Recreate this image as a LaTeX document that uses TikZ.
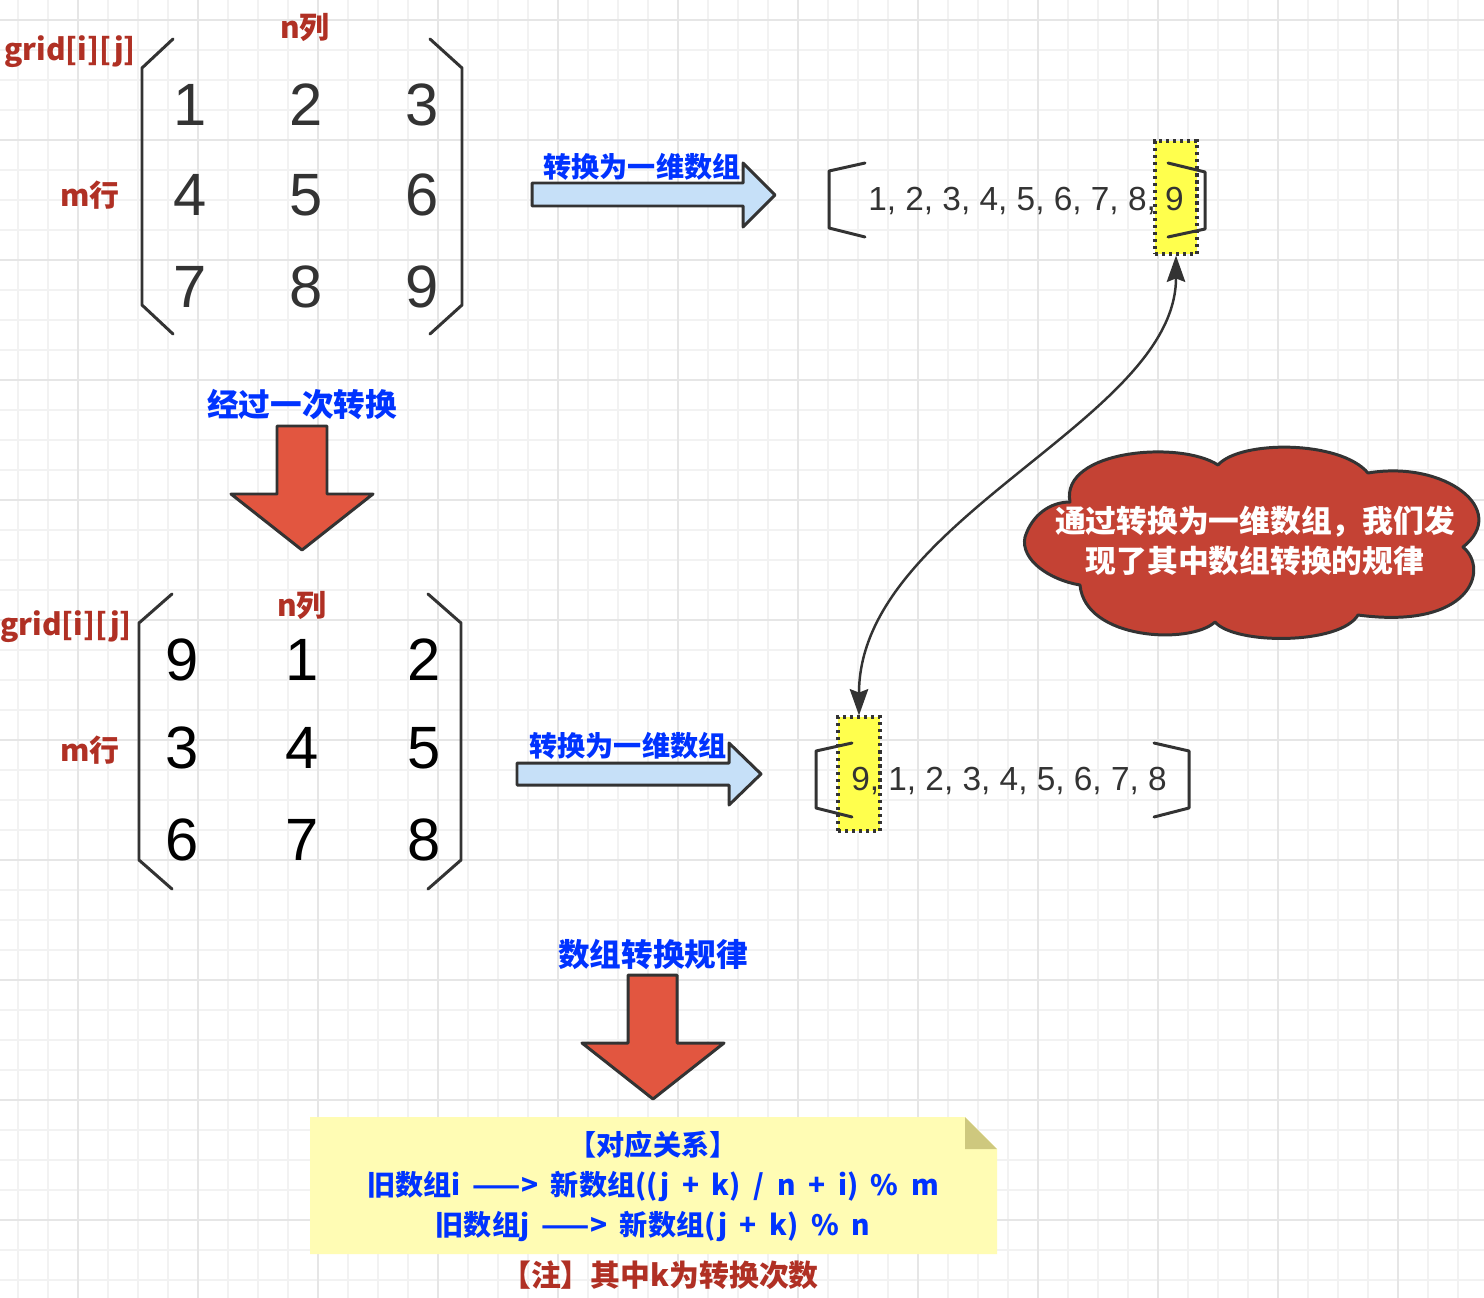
\documentclass[tikz,border=0pt]{standalone}
\usepackage{fontspec}
\setmainfont{Liberation Sans}
\newfontfamily\cjk{Noto Sans CJK SC}
\usetikzlibrary{arrows.meta}
\definecolor{lblred}{RGB}{176,48,36}
\definecolor{lblblue}{RGB}{0,51,255}
\definecolor{ink}{RGB}{51,51,51}
\definecolor{arrowblue}{RGB}{198,224,248}
\definecolor{arrowred}{RGB}{226,86,64}
\definecolor{cloudred}{RGB}{196,66,52}
\definecolor{hlyellow}{RGB}{255,255,77}
\definecolor{notebg}{RGB}{255,252,180}
\definecolor{notefold}{RGB}{206,200,126}
\definecolor{gridminor}{RGB}{242,242,242}
\definecolor{gridmajor}{RGB}{230,230,230}
\newcommand{\widespace}{\spaceskip=0.45em\relax}

\begin{document}
\begin{tikzpicture}[
  x=0.02cm, y=-0.02cm,
  digit/.style={inner sep=0pt, text=ink, font=\fontsize{34}{34}\selectfont},
  listtxt/.style={inner sep=0pt, text=ink, font=\fontsize{19}{19}\selectfont},
  redlbl/.style={inner sep=0pt, text=lblred, font=\cjk\bfseries\fontsize{17}{20}\selectfont},
  bluelbl/.style={inner sep=0pt, text=lblblue, font=\cjk\bfseries\fontsize{16}{19}\selectfont},
  biglbl/.style={bluelbl, font=\cjk\bfseries\fontsize{18}{21}\selectfont},
  paren/.style={draw=ink, line width=1.7pt, line cap=round, line join=round},
  blockarrow/.style={draw=ink, line width=1.7pt, line join=round},
  hlbox/.style={draw=ink, fill=hlyellow, line width=1.8pt, dash pattern=on 1.8pt off 2.2pt,
                minimum width=0.84cm, inner sep=0pt},
  gridline/.style={line width=0.8pt},
]
\useasboundingbox (0,0) rectangle (1484,1298);
\fill[white] (0,0) rectangle (1484,1298);
% background grid
\foreach \gx in {18,48,...,1484} \draw[gridline, gridminor] (\gx,0) -- (\gx,1298);
\foreach \gy in {20,50,...,1298} \draw[gridline, gridminor] (0,\gy) -- (1484,\gy);
\foreach \gx in {78,198,...,1484} \draw[gridline, gridmajor] (\gx,0) -- (\gx,1298);
\foreach \gy in {20,140,...,1298} \draw[gridline, gridmajor] (0,\gy) -- (1484,\gy);

% original matrix
\draw[paren] (173,39) -- (142,68) -- (142,305) -- (173,334);
\draw[paren] (430,39) -- (462,68) -- (462,305) -- (430,334);
\foreach \v/\cx/\cy in {1/190/105, 2/306/105, 3/422/105,
                        4/190/195, 5/306/195, 6/422/195,
                        7/190/287, 8/306/287, 9/422/287}
  \node[digit] (old\v) at (\cx,\cy) {\v};
\node[redlbl] (gridOld) at (70,52) {grid[i][j]};
\node[redlbl] (colOld) at (305,27) {n列};
\node[redlbl] (rowOld) at (90,195) {m行};

% shifted matrix
\draw[paren] (172,594) -- (139,623) -- (139,860) -- (172,889);
\draw[paren] (428,594) -- (461,623) -- (461,860) -- (428,889);
\foreach \v/\cx/\cy in {9/182/660, 1/302/660, 2/424/660,
                        3/182/748, 4/302/748, 5/424/748,
                        6/182/840, 7/302/840, 8/424/840}
  \node[digit, text=black] (new\v) at (\cx,\cy) {\v};
\node[redlbl] (gridNew) at (66,627) {grid[i][j]};
\node[redlbl] (colNew) at (302,605) {n列};
\node[redlbl] (rowNew) at (90,750) {m行};

% flatten arrows
\draw[blockarrow, fill=arrowblue] (532,183) -- (743,183) -- (743,163) -- (775,195)
  -- (743,227) -- (743,206) -- (532,206) -- cycle;
\node[bluelbl] (flatOld) at (642,167) {转换为一维数组};
\draw[blockarrow, fill=arrowblue] (517,763) -- (729,763) -- (729,743) -- (761,774)
  -- (729,805) -- (729,785) -- (517,785) -- cycle;
\node[bluelbl] (flatNew) at (628,746) {转换为一维数组};

% down arrows
\draw[blockarrow, fill=arrowred] (277,426) -- (327,426) -- (327,494) -- (373,494)
  -- (302,550) -- (231,494) -- (277,494) -- cycle;
\node[biglbl] (shiftOnce) at (302,405) {经过一次转换};
\draw[blockarrow, fill=arrowred] (628,975) -- (677,975) -- (677,1043) -- (724,1043)
  -- (653,1099) -- (582,1043) -- (628,1043) -- cycle;
\node[biglbl] (ruleLbl) at (653,955) {数组转换规律};

% one-dimensional lists
\node[hlbox, minimum height=2.26cm] (hlTop) at (1176,197.5) {};
\node[hlbox, minimum height=2.28cm] (hlBot) at (859,774) {};
\draw[paren] (865,163) -- (829,171) -- (829,228) -- (865,237);
\draw[paren] (1168,163) -- (1205,172) -- (1205,229) -- (1168,237);
\node[listtxt] (listOld) at (1026,201) {1, 2, 3, 4, 5, 6, 7, 8, 9};
\draw[paren] (852,743) -- (816,751) -- (816,808) -- (852,817);
\draw[paren] (1154,743) -- (1189,751) -- (1189,808) -- (1154,817);
\node[listtxt] (listNew) at (1009,781) {9, 1, 2, 3, 4, 5, 6, 7, 8};

\draw[ink, line width=1.4pt, {Stealth[length=15pt,width=10.5pt,inset=2pt]}-{Stealth[length=15pt,width=10.5pt,inset=2pt]}]
  (hlTop.south) .. controls +(0,165) and +(0,-197) .. (hlBot.north);

% cloud
\draw[draw=ink, fill=cloudred, line width=1.7pt, line join=round]
  (1025,537) .. controls (1032,515) and (1050,502) .. (1070,502)
  .. controls (1060,450) and (1180,440) .. (1218,465)
  .. controls (1240,440) and (1340,440) .. (1368,473)
  .. controls (1445,460) and (1510,510) .. (1463,547)
  .. controls (1490,570) and (1470,630) .. (1358,615)
  .. controls (1340,645) and (1235,645) .. (1215,622)
  .. controls (1190,645) and (1085,640) .. (1080,585)
  .. controls (1050,580) and (1020,560) .. (1025,537) -- cycle;
\node[inner sep=0pt, text=white, align=center, font=\cjk\bfseries\fontsize{17.5}{22.8}\selectfont]
  (cloudNote) at (1255,541) {通过转换为一维数组，我们发\\现了其中数组转换的规律};

% note
\fill[notebg] (310,1117) -- (965,1117) -- (997,1149) -- (997,1254) -- (310,1254) -- cycle;
\fill[notefold] (965,1117) -- (997,1149) -- (965,1149) -- cycle;
\node[bluelbl, align=center, font={\cjk\bfseries\fontsize{16}{22.8}\selectfont\widespace}] (mapping) at (653,1186)
  {【对应关系】\\旧数组i ——> 新数组((j + k) / n + i) \% m\\旧数组j ——> 新数组(j + k) \% n};
\node[redlbl] (remark) at (660,1275) {【注】其中k为转换次数};
\end{tikzpicture}
\end{document}
